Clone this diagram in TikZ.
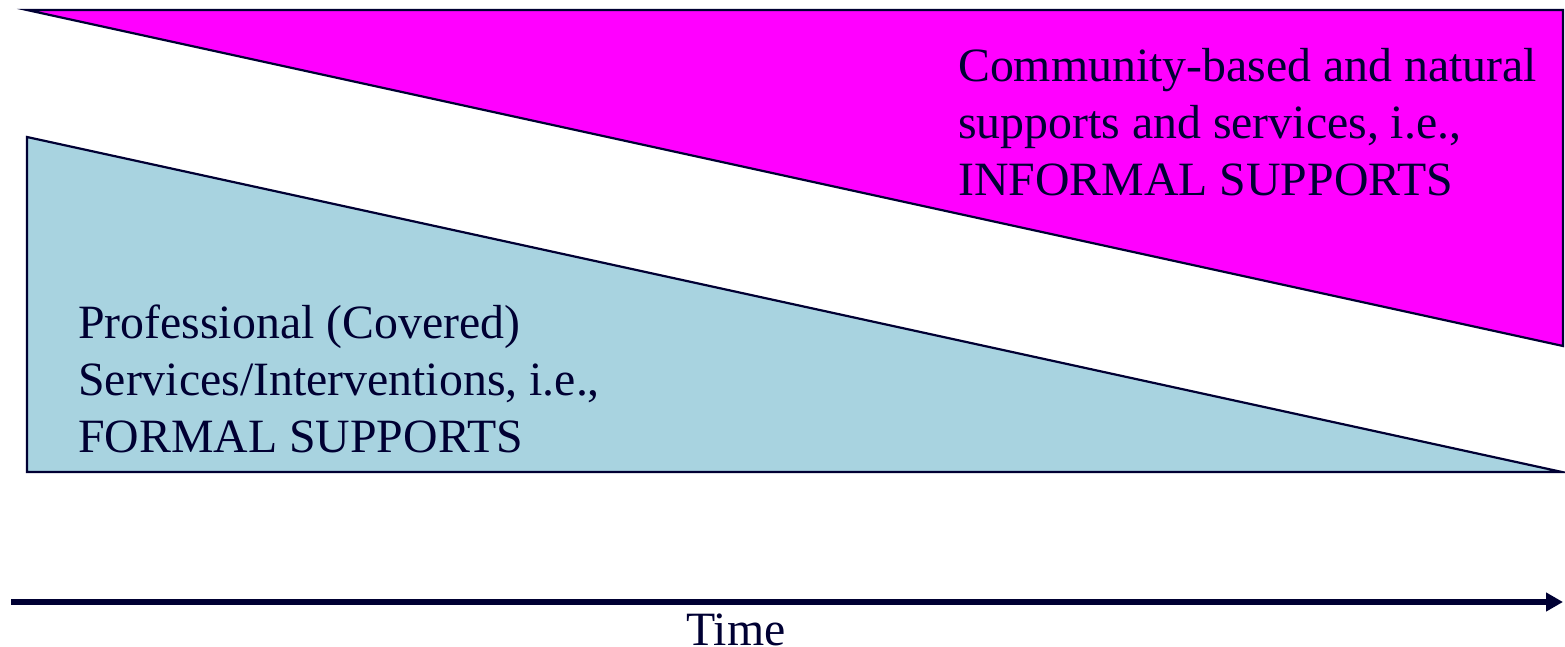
\documentclass[tikz,border=0pt]{standalone}
\usepackage{fontspec}
\setmainfont{Liberation Serif}
\usetikzlibrary{arrows.meta}
\definecolor{navy}{RGB}{0,0,51}
\definecolor{lightblue}{RGB}{168,211,224}
\definecolor{magentafill}{RGB}{255,0,255}
\tikzset{
  shapeline/.style={draw=navy, line width=2.2pt, line join=miter},
  label text/.style={anchor=base west, inner sep=0pt, text=navy,
    font=\fontsize{47.8}{57}\selectfont},
  timeaxis/.style={draw=navy, line width=6pt, -{Triangle[length=17pt,width=18pt]}}
}
\begin{document}
\begin{tikzpicture}[x=1pt,y=-1pt]
\useasboundingbox (0,0) rectangle (1565,647);
% informal supports wedge
\coordinate (m1) at (27,10);
\coordinate (m2) at (1563,10);
\coordinate (m3) at (1563,346);
\path[shapeline, fill=magentafill] (m1) -- (m2) -- (m3) -- cycle;
% formal supports wedge
\coordinate (b1) at (27,137);
\coordinate (b2) at (1562,472);
\coordinate (b3) at (27,472);
\path[shapeline, fill=lightblue] (b1) -- (b2) -- (b3) -- cycle;
% texts
\node[label text] (informal) at (958,82) {\def\arraystretch{1}\begin{tabular}[t]{@{}l@{}}Community-based and natural\\supports and services, i.e.,\\INFORMAL SUPPORTS\end{tabular}};
\node[label text] (formal) at (78,338) {\def\arraystretch{1}\begin{tabular}[t]{@{}l@{}}Professional (Covered)\\Services/Interventions, i.e.,\\FORMAL SUPPORTS\end{tabular}};
% time axis
\coordinate (t0) at (11,602);
\coordinate (t1) at (1563,602);
\draw[timeaxis] (t0) -- (t1);
\node[anchor=base, inner sep=0pt, text=navy, font=\fontsize{47.8}{57}\selectfont] (time) at (736,645) {Time};
\end{tikzpicture}
\end{document}
